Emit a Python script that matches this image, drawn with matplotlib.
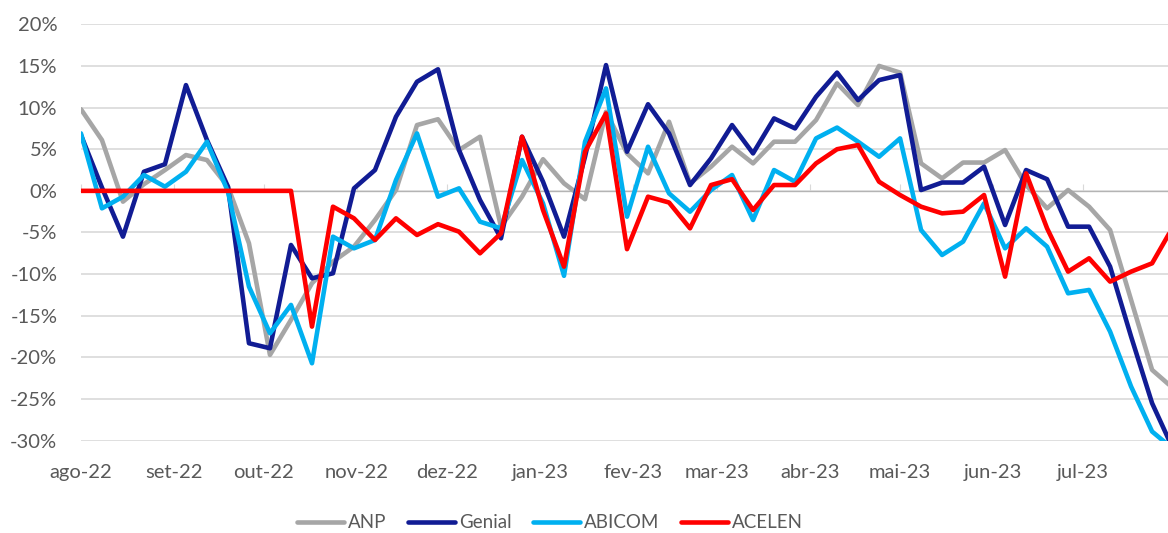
#!/usr/bin/env python3
"""
Defasagem semanal dos preços de combustível: ANP, Genial, ABICOM, ACELEN
"""

import pandas as pd
import matplotlib
matplotlib.use('Agg')
import matplotlib.pyplot as plt
from matplotlib.ticker import FuncFormatter

# Weekly observations (%), starting 2022-08-01
start_date = '2022-08-01'

anp = [9.8, 6.1, -1.3, 0.8, 2.5, 4.3, 3.7, 0.5, -6.3, -19.7, -15.5, -11.1, -8.5,
       -6.7, -3.5, 0.1, 7.9, 8.6, 4.9, 6.5, -4.3, -0.7, 3.8, 0.9, -1.0, 9.5,
       4.5, 2.1, 8.3, 0.9, 2.9, 5.3, 3.3, 5.9, 5.9, 8.5, 12.9, 10.3, 15.0,
       14.2, 3.3, 1.5, 3.4, 3.4, 4.9, 0.7, -2.1, 0.1, -1.9, -4.7, -13.1, -21.5, -23.7]

genial = [6.7, 0.4, -5.5, 2.3, 3.2, 12.7, 6.1, 0.5, -18.3, -18.9, -6.5, -10.5, -9.9,
          0.3, 2.5, 8.9, 13.1, 14.6, 4.9, -1.1, -5.7, 6.5, 1.1, -5.5, 4.1, 15.1,
          4.7, 10.4, 6.9, 0.7, 3.9, 7.9, 4.5, 8.7, 7.5, 11.3, 14.2, 10.9, 13.3,
          13.9, 0.1, 1.0, 1.0, 2.9, -4.1, 2.5, 1.4, -4.3, -4.3, -9.1, -17.5, -25.5, -31.0]

abicom = [6.9, -2.1, -0.7, 1.9, 0.5, 2.3, 5.9, -0.1, -11.5, -17.1, -13.7, -20.7, -5.5,
          -6.9, -5.9, 1.3, 6.9, -0.7, 0.3, -3.7, -4.5, 3.7, -1.5, -10.2, 5.9, 12.3,
          -3.1, 5.3, -0.3, -2.5, 0.1, 1.9, -3.5, 2.5, 1.1, 6.3, 7.6, 5.9, 4.1,
          6.3, -4.7, -7.7, -6.1, -1.5, -6.9, -4.5, -6.7, -12.3, -11.9, -16.9, -23.5, -28.9, -31.0]

acelen = [0.0, 0.0, 0.0, 0.0, 0.0, 0.0, 0.0, 0.0, 0.0, 0.0, 0.0, -16.3, -1.9,
          -3.3, -5.9, -3.3, -5.3, -4.0, -4.9, -7.5, -5.1, 6.5, -2.3, -9.1, 4.7, 9.3,
          -7.0, -0.7, -1.4, -4.5, 0.7, 1.4, -2.3, 0.7, 0.7, 3.3, 5.0, 5.5, 1.1,
          -0.5, -1.9, -2.7, -2.5, -0.5, -10.3, 2.1, -4.5, -9.7, -8.1, -10.9, -9.7, -8.7, -4.3]

month_labels = ['ago-22', 'set-22', 'out-22', 'nov-22', 'dez-22', 'jan-23',
                'fev-23', 'mar-23', 'abr-23', 'mai-23', 'jun-23', 'jul-23']

series = [
    ('ANP', anp, '#A6A6A6'),
    ('Genial', genial, '#111C94'),
    ('ABICOM', abicom, '#00B0F0'),
    ('ACELEN', acelen, '#FF0000'),
]

TEXT = '#595959'
GRID = '#D9D9D9'


def main():
    plt.rcParams['font.family'] = ['Lato', 'DejaVu Sans']

    dates = pd.date_range(start_date, periods=len(anp), freq='7D')
    month_starts = pd.date_range(start_date, periods=len(month_labels), freq='MS')

    fig = plt.figure(figsize=(11.68, 5.33), dpi=100)
    ax = fig.add_axes([0.0693, 0.1732, 0.9307, 0.7812])

    for name, vals, color in series:
        ax.plot(dates, vals, color=color, lw=3.3, label=name,
                solid_joinstyle='round', solid_capstyle='round')

    ax.set_ylim(-30, 20)
    ax.set_yticks(range(-30, 21, 5))
    ax.yaxis.set_major_formatter(FuncFormatter(lambda v, p: f'{v:.0f}%'))
    ax.set_xlim(dates[0], dates[0] + pd.Timedelta(days=362.3))

    ax.set_xticks(month_starts)
    ax.set_xticklabels(month_labels)
    ax.tick_params(axis='x', length=0, pad=17, labelsize=14.5, labelcolor=TEXT)
    ax.tick_params(axis='y', length=0, pad=17, labelsize=14.5, labelcolor=TEXT)

    ax.grid(axis='y', color=GRID, lw=1.2)
    ax.set_axisbelow(True)
    for s in ax.spines.values():
        s.set_visible(False)

    # month tick marks on the 0% line
    sec = ax.secondary_xaxis(0.6)
    sec.set_xticks(month_starts)
    sec.tick_params(axis='x', length=5, direction='out', color=GRID,
                    labelbottom=False, labeltop=False)
    sec.spines['bottom'].set_color(GRID)
    sec.spines['bottom'].set_linewidth(1.2)

    fig.legend(loc='center', bbox_to_anchor=(550 / 1168, 1 - 523 / 533),
               ncol=4, frameon=False, fontsize=13.5, handlelength=2.5,
               handletextpad=0.22, columnspacing=1.15, labelcolor=TEXT)

    fig.savefig('out.png', dpi=100, facecolor='white')


if __name__ == '__main__':
    main()
